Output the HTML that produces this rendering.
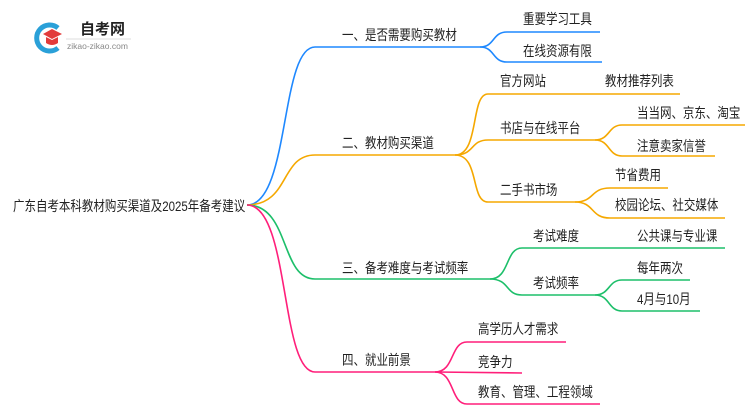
<!DOCTYPE html>
<html><head><meta charset="utf-8"><style>
body{margin:0;width:750px;height:410px;background:#fff;position:relative;overflow:hidden;font-family:"Liberation Sans","Noto Sans CJK SC",sans-serif;}
.t{position:absolute;font-size:14px;color:#222;white-space:nowrap;line-height:16px;transform:scaleX(0.82);transform-origin:0 0;}
</style></head><body>
<svg width="750" height="410" style="position:absolute;left:0;top:0" fill="none" stroke-width="1.6">
<!-- logo -->
<path d="M58 28 A13 13 0 1 0 58 48" stroke="#2aa0d8" stroke-width="5"/>
<path d="M43 34 L52 29 L62 34 L52 39 Z" fill="#e23b3b" stroke="none"/>
<path d="M46 37 L46 43 Q52 47 58 43 L58 37 L52 40 Z" fill="#e23b3b" stroke="none"/>
<line x1="66" y1="39" x2="131" y2="39" stroke="#ddd" stroke-width="1"/>
<!-- blue -->
<path d="M247 205 C290 205 280 47 315 47 L480 47" stroke="#1e88ff"/>
<path d="M480 47 C495 47 492 32 507 32 L600 32" stroke="#1e88ff"/>
<path d="M480 47 C495 47 492 62 507 62 L602 62" stroke="#1e88ff"/>
<!-- orange -->
<path d="M247 205 C290 205 280 155 315 155 L455 155" stroke="#f5a800"/>
<path d="M455 155 C480 155 470 94 488 94 L680 94" stroke="#f5a800"/>
<path d="M455 155 C475 155 470 140 488 140 L595 140" stroke="#f5a800"/>
<path d="M455 155 C480 155 470 202 488 202 L575 202" stroke="#f5a800"/>
<path d="M595 140 C610 140 608 125 622 125 L745 125" stroke="#f5a800"/>
<path d="M595 140 C610 140 608 156 622 156 L715 156" stroke="#f5a800"/>
<path d="M575 202 C595 202 590 188 610 188 L668 188" stroke="#f5a800"/>
<path d="M575 202 C595 202 590 218 610 218 L725 218" stroke="#f5a800"/>
<!-- green -->
<path d="M247 205 C290 205 280 279 315 279 L490 279" stroke="#1dbf6a"/>
<path d="M490 279 C510 279 505 248 522 248 L725 248" stroke="#1dbf6a"/>
<path d="M490 279 C510 279 505 295 522 295 L595 295" stroke="#1dbf6a"/>
<path d="M595 295 C610 295 608 280 622 280 L690 280" stroke="#1dbf6a"/>
<path d="M595 295 C610 295 608 311 622 311 L700 311" stroke="#1dbf6a"/>
<!-- pink -->
<path d="M247 205 C290 205 280 372 315 372 L435 372" stroke="#ff1f7a"/>
<path d="M435 372 C455 372 450 342 467 342 L566 342" stroke="#ff1f7a"/>
<path d="M435 372 L522 373" stroke="#ff1f7a"/>
<path d="M435 372 C455 372 450 404 467 404 L600 404" stroke="#ff1f7a"/>
</svg>
<div class="t" style="left:80px;top:22px;font-size:15px;font-weight:bold;transform:none;">自考网</div>
<div class="t" style="left:67px;top:41px;font-size:8.5px;color:#888;line-height:10px;transform:none;">zikao-zikao.com</div>
<div class="t" style="left:13px;top:198px;">广东自考本科教材购买渠道及2025年备考建议</div>
<div class="t" style="left:342px;top:27px;">一、是否需要购买教材</div>
<div class="t" style="left:523px;top:11px;">重要学习工具</div>
<div class="t" style="left:523px;top:43px;">在线资源有限</div>
<div class="t" style="left:342px;top:135px;">二、教材购买渠道</div>
<div class="t" style="left:500px;top:73px;">官方网站</div>
<div class="t" style="left:605px;top:73px;">教材推荐列表</div>
<div class="t" style="left:500px;top:120px;">书店与在线平台</div>
<div class="t" style="left:637px;top:105px;">当当网、京东、淘宝</div>
<div class="t" style="left:637px;top:138px;">注意卖家信誉</div>
<div class="t" style="left:500px;top:182px;">二手书市场</div>
<div class="t" style="left:615px;top:167px;">节省费用</div>
<div class="t" style="left:615px;top:197px;">校园论坛、社交媒体</div>
<div class="t" style="left:342px;top:260px;">三、备考难度与考试频率</div>
<div class="t" style="left:533px;top:228px;">考试难度</div>
<div class="t" style="left:637px;top:228px;">公共课与专业课</div>
<div class="t" style="left:533px;top:275px;">考试频率</div>
<div class="t" style="left:637px;top:260px;">每年两次</div>
<div class="t" style="left:637px;top:291px;">4月与10月</div>
<div class="t" style="left:342px;top:352px;">四、就业前景</div>
<div class="t" style="left:478px;top:321px;">高学历人才需求</div>
<div class="t" style="left:478px;top:354px;">竞争力</div>
<div class="t" style="left:478px;top:384px;">教育、管理、工程领域</div>
</body></html>
